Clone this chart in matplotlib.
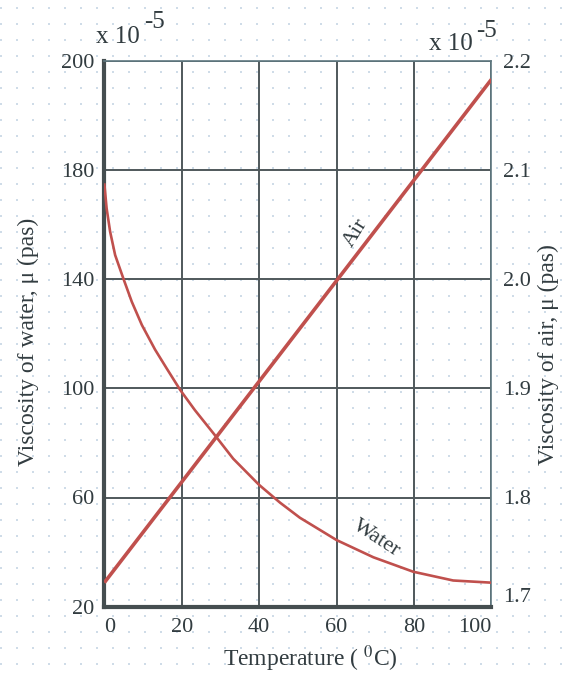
import numpy as np
import matplotlib
matplotlib.use("Agg")
import matplotlib.pyplot as plt

plt.rcParams['font.family'] = ['Liberation Serif', 'DejaVu Serif']
plt.rcParams['mathtext.fontset'] = 'stix'

# ---- data ----
temp_ticks = [0, 20, 40, 60, 80, 100]
water_ticks = [20, 60, 100, 140, 180, 200]          # left axis labels (x 1e-5)
air_ticks = [1.7, 1.8, 1.9, 2.0, 2.1, 2.2]          # right axis labels (x 1e-5)

water_temp = [0, 0.6, 1.5, 2.8, 4.9, 7.1, 9.7, 13.1, 16.1, 19.6, 23.4, 28.3,
              33.3, 40, 45.4, 50.5, 60, 69.5, 79.8, 90.1, 100]
water_visc = [175.1, 165.9, 157.4, 148.8, 140.3, 131.7, 123.2, 114.2, 107.3,
              99.4, 92.0, 83.3, 74.2, 64.6, 58.1, 52.6, 44.4, 38.1, 32.8,
              29.6, 28.8]

air_temp = [0, 100]
air_visc = [1.722, 2.183]

TXT = '#323c40'
RED = '#c0504d'
GRID = '#4f585b'

fig = plt.figure(figsize=(5.63, 6.75), dpi=100, facecolor='white')

# faint dotted background (graph paper look)
bg = fig.add_axes([0, 0, 1, 1], zorder=-5)
bg.set_xlim(0, 563)
bg.set_ylim(675, 0)
bg.set_frame_on(False)
bg.set_yticks(np.arange(8, 675, 16))
bg.set_xticks([])
bg.tick_params(length=0, labelleft=False, labelbottom=False)
bg.yaxis.grid(True, linestyle=(0, (1.2, 8.4)), color='#c6d6e4', lw=1.2)

ax = fig.add_axes([104.3/563, 1-606.7/675, (491.5-104.3)/563, (606.7-60.7)/675])
ax.patch.set_alpha(0)

pos = list(range(len(water_ticks)))
fwd = lambda v: np.interp(v, water_ticks, pos)
inv = lambda p: np.interp(p, pos, water_ticks)
ax.set_yscale('function', functions=(fwd, inv))
ax.set_ylim(water_ticks[0], water_ticks[-1])
ax.set_xlim(temp_ticks[0], temp_ticks[-1])
ax.set_yticks(water_ticks)
ax.set_yticklabels([str(v) for v in water_ticks])
ax.set_xticks(temp_ticks)
ax.set_xticklabels([str(v) for v in temp_ticks])
ax.yaxis.set_minor_locator(matplotlib.ticker.NullLocator())
ax.grid(True, color=GRID, lw=1.4)
ax.tick_params(length=0, labelsize=16, colors=TXT, pad=7)
ax.tick_params(axis='x', pad=8)
xl = ax.get_xticklabels()
xl[0].set_ha('left')
xl[-1].set_ha('right')

for s in ['left', 'bottom']:
    ax.spines[s].set_linewidth(3.0)
    ax.spines[s].set_color('#454e50')
for s in ['top', 'right']:
    ax.spines[s].set_linewidth(1.2)
    ax.spines[s].set_color('#5f7880')

ax.plot(water_temp, water_visc, color=RED, lw=1.9, zorder=3,
        solid_capstyle='butt', solid_joinstyle='round')

ax2 = ax.twinx()
ax2.set_ylim(air_ticks[0], air_ticks[-1])
ax2.set_yticks(air_ticks)
ax2.set_yticklabels([f'{v:.1f}' for v in air_ticks])
ax2.tick_params(length=0, labelsize=16, colors=TXT, pad=8)
for s in ax2.spines.values():
    s.set_visible(False)
yl = ax2.get_yticklabels()
yl[0].set_va('bottom')
ax2.plot(air_temp, air_visc, color=RED, lw=2.6, zorder=3, solid_capstyle='butt')

ax.set_xlabel('Temperature ( $^{0}$C)', fontsize=17, color=TXT)
ax.xaxis.set_label_coords(0.532, -0.095)
ax.xaxis.label.set_va('center')
ax.set_ylabel('Viscosity of water, μ (pas)', fontsize=17, color=TXT)
ax.yaxis.set_label_coords(-0.197, 0.485)
ax.yaxis.label.set(va='center', ha='center')
ax2.set_ylabel('Viscosity of air, μ (pas)', fontsize=17, color=TXT)
ax2.yaxis.set_label_coords(1.146, 0.461)
ax2.yaxis.label.set(va='center', ha='center', rotation=90)

ax2.text(65.0, 2.042, 'Air', rotation=58, fontsize=16, color=TXT,
         ha='center', va='center')
ax.text(70.3, 44.8, 'Water', rotation=-33, fontsize=16, color=TXT,
        ha='center', va='center')

H = 675
fig.text(96/563, 1-43/H, 'x 10', fontsize=18, color=TXT, ha='left', va='baseline')
fig.text(144/563, 1-28/H, '-5', fontsize=18, color=TXT, ha='left', va='baseline')
fig.text(429/563, 1-50/H, 'x 10', fontsize=18, color=TXT, ha='left', va='baseline')
fig.text(476/563, 1-37/H, '-5', fontsize=18, color=TXT, ha='left', va='baseline')

fig.savefig('out.png', dpi=100, facecolor='white')
